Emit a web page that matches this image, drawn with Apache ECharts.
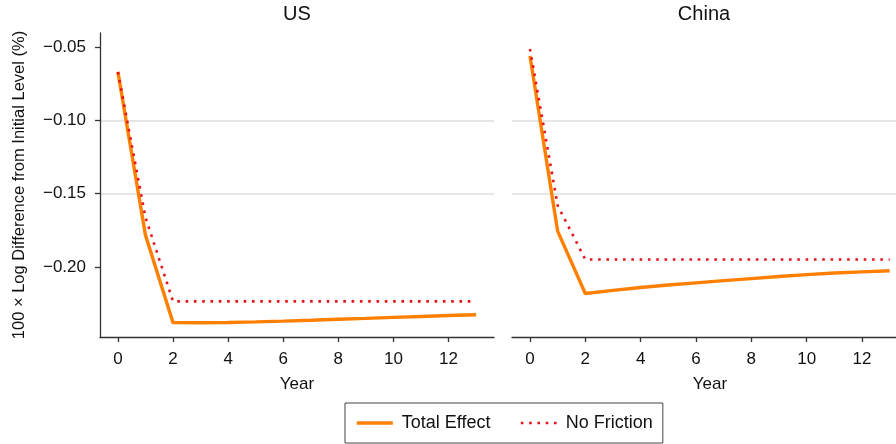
<!DOCTYPE html>
<html>
<head>
<meta charset="utf-8">
<script src="https://cdn.jsdelivr.net/npm/echarts@6/dist/echarts.min.js"></script>
<style>html,body{margin:0;padding:0;background:#fff}#c{width:896px;height:444px}</style>
</head>
<body>
<div id="c"></div>
<script>
const years = [0,1,2,3,4,5,6,7,8,9,10,11,12,13];
const usTotal = [-0.067,-0.1782,-0.2378,-0.2379,-0.2377,-0.2373,-0.2368,-0.2362,-0.2355,-0.2349,-0.2342,-0.2336,-0.2330,-0.2324];
const usNoFriction = [-0.067,-0.166,-0.2233,-0.2233,-0.2233,-0.2233,-0.2233,-0.2233,-0.2233,-0.2233,-0.2233,-0.2233,-0.2233,-0.2233];
const chinaTotal = [-0.0561,-0.1755,-0.2180,-0.2158,-0.2139,-0.2122,-0.2107,-0.2092,-0.2078,-0.2064,-0.2051,-0.2040,-0.2032,-0.2025];
const chinaNoFriction = [-0.0514,-0.158,-0.1948,-0.1948,-0.1948,-0.1948,-0.1948,-0.1948,-0.1948,-0.1948,-0.1948,-0.1948,-0.1948,-0.1948];
const xTicks = [0,2,4,6,8,10,12];
const yTicks = [-0.20,-0.15,-0.10,-0.05];
const panelTitles = ['US','China'];
const seriesNames = ['Total Effect','No Friction'];

const FONT = 'Liberation Sans, Arial, Helvetica, sans-serif';
const pair = (ys) => years.map((x,i) => [x, ys[i]]);
const fmtY = v => v.toFixed(2).replace('-', '\u2212');
const axisColor = '#333';
const gridColor = '#dedede';

function xAx(idx, max, namePad){
  return {
    type:'value', gridIndex: idx, min:-0.65, max:max,
    name:'Year', nameLocation:'middle', nameGap:39,
    nameTextStyle:{fontFamily:FONT,fontSize:17,color:'#111',padding:namePad},
    axisLine:{show:true,onZero:false,lineStyle:{color:axisColor,width:1.3}},
    axisTick:{show:true,length:5,customValues:xTicks,lineStyle:{color:axisColor,width:1.3}},
    axisLabel:{customValues:xTicks,fontFamily:FONT,fontSize:17,color:'#111',margin:14},
    splitLine:{show:false}
  };
}
function yAx(idx, main){
  return {
    type:'value', gridIndex: idx, min:-0.2476, max:-0.0405,
    name: main ? '100 \u00d7 Log Difference from Initial Level (%)' : '',
    nameLocation:'middle', nameGap:72,
    nameTextStyle:{fontFamily:FONT,fontSize:16.5,color:'#111'},
    axisLine:{show:main,onZero:false,lineStyle:{color:axisColor,width:1.3}},
    axisTick:{show:main,length:5,customValues:yTicks,lineStyle:{color:axisColor,width:1.3}},
    axisLabel:{show:main,customValues:yTicks,formatter:fmtY,fontFamily:FONT,fontSize:17,color:'#111',margin:14},
    splitLine:{show:true,showMinLine:false,showMaxLine:false,lineStyle:{color:gridColor,width:1.5}}
  };
}
const totalStyle = {color:'#ff8000',width:3.4};
const nfStyle = {color:'#e8141c',width:2.6,type:[2.6,5.7],cap:'butt'};

const option = {
  animation:false,
  backgroundColor:'#fff',
  graphic:[
    {type:'text',x:297,y:14,style:{text:panelTitles[0],fill:'#111',font:'20px ' + FONT,textAlign:'center',textVerticalAlign:'middle'}},
    {type:'text',x:704,y:14,style:{text:panelTitles[1],fill:'#111',font:'20px ' + FONT,textAlign:'center',textVerticalAlign:'middle'}}
  ],
  grid:[
    {left:100,top:33,width:394,height:304},
    {left:512,top:33,right:0,height:304}
  ],
  xAxis:[xAx(0,13.65,[0,0,0,0]),xAx(1,13.23,[0,0,0,12])],
  yAxis:[yAx(0,true),yAx(1,false)],
  legend:{
    left:345, top:403,
    orient:'horizontal',
    padding:[11,10,11,10],
    borderColor:'#444', borderWidth:1,
    itemWidth:36, itemHeight:14, itemGap:29,
    itemStyle:{opacity:0},
    textStyle:{fontFamily:FONT,fontSize:18,color:'#111',padding:[0,0,0,4]},
    data:[
      {name:seriesNames[0],lineStyle:{width:3.6}},
      {name:seriesNames[1],lineStyle:{width:2.6}}
    ]
  },
  series:[
    {name:seriesNames[0],type:'line',xAxisIndex:0,yAxisIndex:0,data:pair(usTotal),symbol:'none',lineStyle:totalStyle,itemStyle:{color:totalStyle.color},z:2},
    {name:seriesNames[1],type:'line',xAxisIndex:0,yAxisIndex:0,data:pair(usNoFriction),symbol:'none',lineStyle:nfStyle,itemStyle:{color:nfStyle.color},z:3},
    {name:seriesNames[0],type:'line',xAxisIndex:1,yAxisIndex:1,data:pair(chinaTotal),symbol:'none',lineStyle:totalStyle,itemStyle:{color:totalStyle.color},z:2},
    {name:seriesNames[1],type:'line',xAxisIndex:1,yAxisIndex:1,data:pair(chinaNoFriction),symbol:'none',lineStyle:nfStyle,itemStyle:{color:nfStyle.color},z:3}
  ]
};
const chart = echarts.init(document.getElementById('c'),null,{renderer:'canvas'});
chart.setOption(option);
</script>
</body>
</html>
